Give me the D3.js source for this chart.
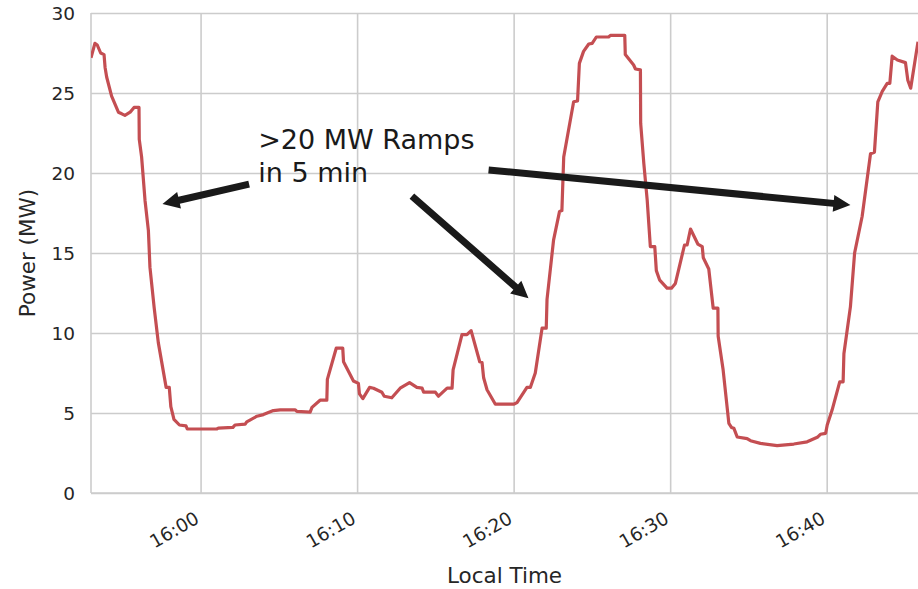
<!DOCTYPE html>
<html><head><meta charset="utf-8">
<script src="https://cdn.jsdelivr.net/npm/d3@7"></script>
<style>
body{margin:0;background:#fff}
svg{display:block}
text{font-family:"DejaVu Sans",sans-serif;fill:#262626}
</style>
</head><body><svg id="c" width="918" height="589"></svg>
<script>
const times = ["15:53:00","15:53:15","15:53:24","15:53:37","15:53:50","15:53:54","15:54:00","15:54:19","15:54:45","15:54:58","15:55:10","15:55:30","15:55:45","15:56:04","15:56:05","15:56:14","15:56:27","15:56:40","15:56:46","15:57:02","15:57:18","15:57:48","15:58:00","15:58:06","15:58:18","15:58:39","15:59:04","15:59:09","16:01:02","16:01:08","16:02:04","16:02:12","16:02:51","16:02:57","16:03:36","16:04:01","16:04:39","16:05:05","16:06:03","16:06:09","16:07:00","16:07:07","16:07:38","16:08:04","16:08:06","16:08:40","16:09:05","16:09:08","16:09:46","16:10:05","16:10:09","16:10:22","16:10:48","16:11:03","16:11:35","16:11:44","16:12:13","16:12:45","16:13:21","16:13:49","16:14:09","16:14:15","16:15:00","16:15:12","16:15:45","16:16:04","16:16:08","16:16:42","16:17:01","16:17:17","16:17:50","16:17:59","16:18:05","16:18:18","16:18:50","16:20:00","16:20:13","16:20:51","16:21:04","16:21:23","16:21:49","16:22:05","16:22:08","16:22:33","16:22:56","16:23:05","16:23:12","16:23:50","16:24:05","16:24:12","16:24:28","16:24:48","16:25:01","16:25:17","16:26:04","16:26:11","16:27:06","16:27:08","16:27:40","16:27:47","16:28:06","16:28:07","16:28:19","16:28:32","16:28:44","16:29:01","16:29:07","16:29:20","16:29:48","16:30:05","16:30:20","16:30:55","16:31:05","16:31:18","16:31:46","16:32:03","16:32:07","16:32:28","16:32:45","16:33:03","16:33:04","16:33:23","16:33:45","16:33:55","16:34:04","16:34:17","16:34:55","16:35:08","16:35:46","16:36:50","16:37:54","16:38:45","16:39:24","16:39:36","16:39:56","16:40:02","16:40:21","16:40:50","16:41:03","16:41:06","16:41:31","16:41:47","16:42:16","16:42:48","16:43:03","16:43:16","16:43:33","16:43:52","16:44:02","16:44:11","16:44:31","16:45:02","16:45:11","16:45:22","16:45:50"];
const power = [27.2,28.1,28.0,27.5,27.4,26.6,26.0,24.8,23.8,23.7,23.6,23.8,24.1,24.1,22.1,21.0,18.3,16.4,14.1,11.6,9.4,6.6,6.6,5.4,4.6,4.25,4.2,4.0,4.0,4.05,4.1,4.25,4.3,4.45,4.8,4.9,5.15,5.2,5.2,5.1,5.06,5.35,5.8,5.8,7.1,9.05,9.05,8.2,7.0,6.85,6.2,5.9,6.6,6.55,6.3,6.05,5.95,6.55,6.9,6.6,6.55,6.3,6.3,6.05,6.55,6.55,7.7,9.9,9.9,10.15,8.2,8.15,7.2,6.45,5.55,5.55,5.65,6.6,6.6,7.5,10.3,10.3,12.1,15.8,17.6,17.65,21.0,24.45,24.5,26.85,27.6,28.06,28.1,28.5,28.5,28.6,28.6,27.4,26.75,26.5,26.45,23.1,20.6,18.3,15.4,15.4,13.9,13.3,12.8,12.8,13.1,15.5,15.5,16.5,15.56,15.4,14.7,14.0,11.55,11.55,9.8,7.7,4.35,4.1,4.05,3.5,3.4,3.27,3.1,2.96,3.06,3.2,3.48,3.67,3.73,4.25,5.2,6.95,6.95,8.7,11.65,15.0,17.3,21.2,21.3,24.45,25.1,25.6,25.6,27.3,27.06,26.9,25.8,25.3,28.2];
const xDomain = ["15:53:00","16:45:50"];
const yDomain = [0, 30];
const yTickValues = [0,5,10,15,20,25,30];
const xTickTimes = ["16:00:00","16:10:00","16:20:00","16:30:00","16:40:00"];
const xTickLabels = ["16:00","16:10","16:20","16:30","16:40"];
const xAxisTitle = "Local Time";
const yAxisTitle = "Power (MW)";
const annotationLines = [">20 MW Ramps","in 5 min"];
const annotationAnchor = ["16:03:41", 21.48];
const arrowTails = [["16:03:06",19.31],["16:13:30",18.56],["16:18:24",20.19]];
const arrowTips  = [["15:57:34",18.06],["16:20:57",12.17],["16:41:31",18.0]];

const parse = d3.timeParse("%H:%M:%S");
const svg = d3.select("#c");
const m = {left:91, right:918, top:13, bottom:493};
const x = d3.scaleTime().domain(xDomain.map(parse)).range([m.left, m.right]);
const y = d3.scaleLinear().domain(yDomain).range([m.bottom, m.top]);

// grid
const grid = svg.append("g");
grid.append("g").attr("transform",`translate(0,${m.bottom})`)
  .call(d3.axisBottom(x).tickValues(xTickTimes.map(parse)).tickSize(-(m.bottom-m.top)).tickFormat(""))
  .call(g=>g.select(".domain").remove())
  .call(g=>g.selectAll("line").attr("stroke","#cccccc").attr("stroke-width",1.6));
grid.append("g").attr("transform",`translate(${m.left},0)`)
  .call(d3.axisLeft(y).tickValues(yTickValues).tickSize(-(m.right-m.left)).tickFormat(""))
  .call(g=>g.select(".domain").remove())
  .call(g=>g.selectAll("line").attr("stroke","#cccccc").attr("stroke-width",1.6));
// spines
svg.append("line").attr("x1",m.left).attr("x2",m.left).attr("y1",m.top).attr("y2",m.bottom).attr("stroke","#cccccc").attr("stroke-width",1.6);
svg.append("line").attr("x1",m.left).attr("x2",m.right).attr("y1",m.bottom).attr("y2",m.bottom).attr("stroke","#cccccc").attr("stroke-width",1.6);

// y tick labels
svg.append("g").selectAll("text").data(yTickValues).join("text")
  .attr("x", m.left-16).attr("y", d=>y(d)).attr("dy","0.36em")
  .attr("text-anchor","end").attr("font-size",18.5).text(d=>d);

// x tick labels
svg.append("g").selectAll("text").data(xTickTimes).join("text")
  .attr("transform",(d)=>`translate(${x(parse(d))},${m.bottom+29}) rotate(-30)`)
  .attr("text-anchor","end").attr("font-size",18.5).text((d,i)=>xTickLabels[i]);

// axis titles
svg.append("text").attr("x",(m.left+m.right)/2).attr("y",583).attr("text-anchor","middle")
  .attr("font-size",21.5).text(xAxisTitle);
svg.append("text").attr("transform",`translate(35,${(m.top+m.bottom)/2}) rotate(-90)`)
  .attr("text-anchor","middle").attr("font-size",21.5).text(yAxisTitle);

// line
svg.append("clipPath").attr("id","clip").append("rect")
  .attr("x",m.left).attr("y",0).attr("width",m.right-m.left).attr("height",m.bottom);
const data = times.map((t,i)=>({t:parse(t), v:power[i]}));
svg.append("path").datum(data).attr("clip-path","url(#clip)")
  .attr("fill","none").attr("stroke","#C44E52").attr("stroke-width",3.2).attr("stroke-linejoin","round")
  .attr("d", d3.line().x(d=>x(d.t)).y(d=>y(d.v)));

// annotation text
const ax = x(parse(annotationAnchor[0])), ay = y(annotationAnchor[1]);
annotationLines.forEach((s,i)=>{
  svg.append("text").attr("x",ax).attr("y",ay+i*32.5).attr("font-size",27).style("fill","#1a1a1a").text(s);
});

// arrows
const bodyHalf = 3.5, headHalf = 8.5, headLen = 17;
arrowTails.forEach((tail,i)=>{
  const tip = arrowTips[i];
  const x0 = x(parse(tail[0])), y0 = y(tail[1]);
  const x1 = x(parse(tip[0])), y1 = y(tip[1]);
  const L = Math.hypot(x1-x0,y1-y0), ux=(x1-x0)/L, uy=(y1-y0)/L, nx=-uy, ny=ux;
  const bx = x1-ux*headLen, by = y1-uy*headLen;
  const pts = [
    [x0+nx*bodyHalf, y0+ny*bodyHalf],
    [bx+nx*bodyHalf, by+ny*bodyHalf],
    [bx+nx*headHalf, by+ny*headHalf],
    [x1, y1],
    [bx-nx*headHalf, by-ny*headHalf],
    [bx-nx*bodyHalf, by-ny*bodyHalf],
    [x0-nx*bodyHalf, y0-ny*bodyHalf]
  ];
  svg.append("polygon").attr("points", pts.map(p=>p.join(",")).join(" ")).attr("fill","#1a1a1a");
});
</script>
</body></html>
